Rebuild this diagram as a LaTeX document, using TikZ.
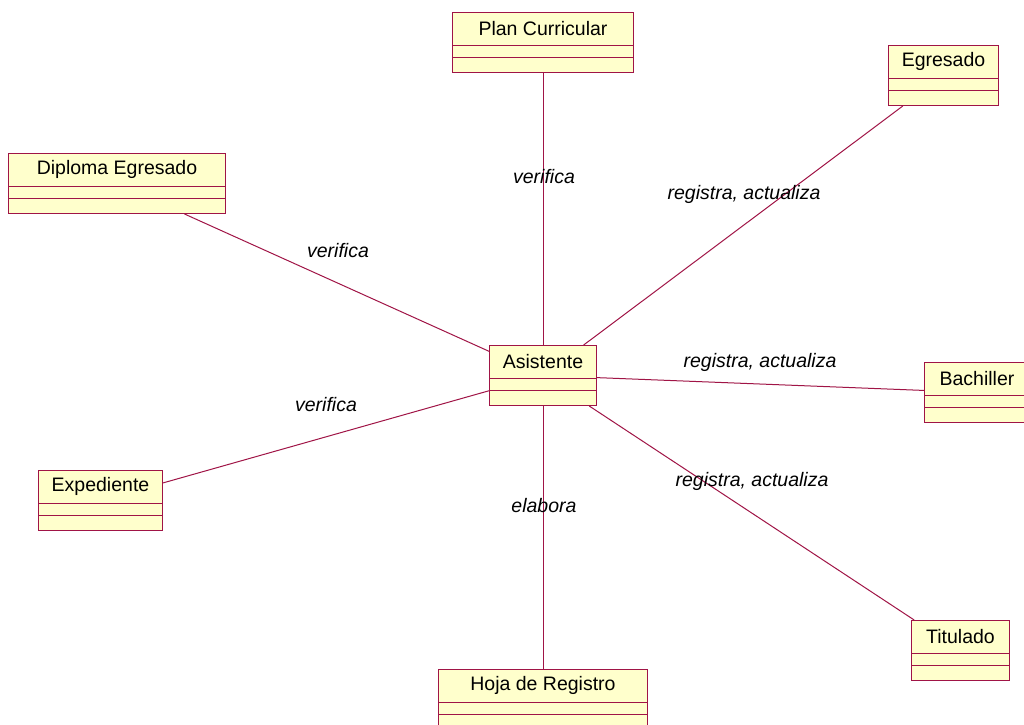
\documentclass[tikz,border=0pt]{standalone}
\usepackage{fontspec}
\setmainfont{Liberation Sans}
\definecolor{umlline}{RGB}{160,20,70}
\definecolor{umlfill}{RGB}{255,255,204}
\newcommand\umlclass[5]{%
  \node[classbox, minimum width=#4] (#1) at (#2,#3) {};
  \node[classtitle] (#1-t) at ([yshift=-16.5pt]#1.north) {#5};
  \draw[classline] ([yshift=-33pt]#1.north west) -- ([yshift=-33pt]#1.north east);
  \draw[classline] ([yshift=-45pt]#1.north west) -- ([yshift=-45pt]#1.north east);
}
\tikzset{
  classbox/.style={rectangle, draw=umlline, fill=umlfill, line width=1pt,
    anchor=north west, minimum height=60, inner sep=0pt},
  classtitle/.style={inner sep=0pt, font=\fontsize{19.5}{23}\selectfont},
  classline/.style={draw=umlline, line width=0.8pt},
  assoc/.style={draw=umlline, line width=1pt},
  rolelabel/.style={inner sep=0pt, font=\fontsize{19.5}{23}\selectfont\itshape}
}
\begin{document}
\begin{tikzpicture}[x=1pt,y=-1pt]
\useasboundingbox (0,0) rectangle (1024,724);
\clip (0,0) rectangle (1024,724);
\fill[white] (0,0) rectangle (1024,724);

\umlclass{pc}{452}{12}{181}{Plan Curricular}
\umlclass{egr}{888}{45}{110}{Egresado}
\umlclass{dip}{8}{153}{217}{Diploma Egresado}
\umlclass{asi}{489}{345}{107}{Asistente}
\umlclass{bach}{924}{362}{105}{Bachiller}
\umlclass{exp}{38}{470}{124}{Expediente}
\umlclass{tit}{911}{620}{98}{Titulado}
\umlclass{hoja}{438}{669}{209}{Hoja de Registro}

\draw[assoc] (pc) -- (asi);
\draw[assoc] (egr) -- (asi);
\draw[assoc] (dip) -- (asi);
\draw[assoc] (bach) -- (asi);
\draw[assoc] (exp) -- (asi);
\draw[assoc] (tit) -- (asi);
\draw[assoc] (hoja) -- (asi);

\node[rolelabel] (l1) at (544,177) {verifica};
\node[rolelabel] (l2) at (744,194) {registra, actualiza};
\node[rolelabel] (l3) at (338,251) {verifica};
\node[rolelabel] (l4) at (760,362) {registra, actualiza};
\node[rolelabel] (l5) at (326,405) {verifica};
\node[rolelabel] (l6) at (752,481) {registra, actualiza};
\node[rolelabel] (l7) at (544,506) {elabora};
\end{tikzpicture}
\end{document}
